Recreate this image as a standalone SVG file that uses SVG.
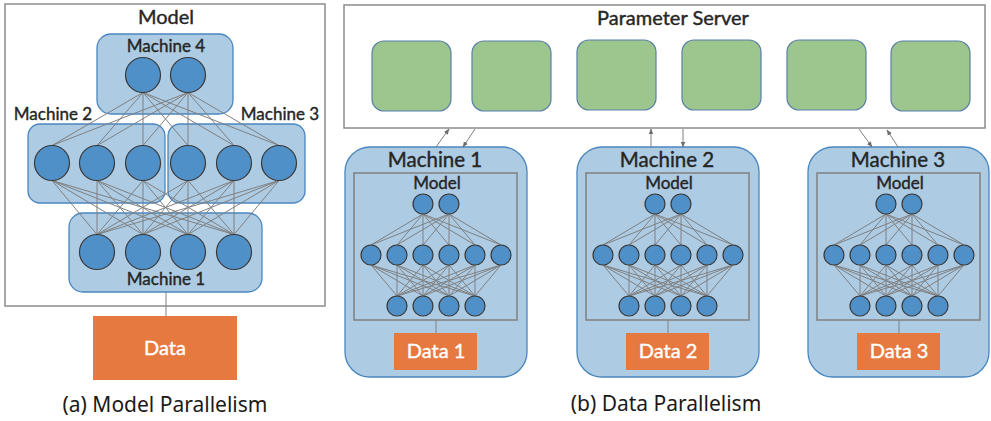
<svg xmlns="http://www.w3.org/2000/svg" xmlns:xlink="http://www.w3.org/1999/xlink" width="991" height="421" viewBox="0 0 991 421">
<style>
.frame{fill:#ffffff;stroke:#8c8c8c;stroke-width:1.5}
.mach{fill:#adcbe3;stroke:#4a86bf;stroke-width:1.3}
.node{fill:#4f90c8;stroke:#3a3a3a;stroke-width:1.2}
.link{stroke:#808080;stroke-width:1;fill:none}
.ps{fill:#9cc68d;stroke:#5a7fa8;stroke-width:1.2}
.data{fill:#e6793f}
.inner{fill:none;stroke:#808080;stroke-width:1.5}
.lbl{font-family:Lato,"Open Sans",sans-serif;fill:#262626;stroke:#262626;stroke-width:0.4;text-anchor:middle}
.wlbl{font-family:Lato,"Open Sans",sans-serif;fill:#ffffff;stroke:#ffffff;stroke-width:0.4;text-anchor:middle}
.cap{font-family:"Noto Sans","DejaVu Sans",sans-serif;fill:#1a1a1a;text-anchor:middle;font-size:21px}
.arr{stroke:#808080;stroke-width:1;fill:none;marker-end:url(#ah)}
</style>
<defs>
<marker id="ah" viewBox="0 0 10 10" refX="9" refY="5" markerWidth="6" markerHeight="6" orient="auto" markerUnits="userSpaceOnUse">
<path d="M0 1L10 5L0 9z" fill="#6e6e6e"/>
</marker>
<g id="net">
<path class="link" d="M423 214L371 245M423 214L397 245M423 214L423 245M423 214L449 245M423 214L475 245M423 214L501 245M449 214L371 245M449 214L397 245M449 214L423 245M449 214L449 245M449 214L475 245M449 214L501 245M371 265L397 296M371 265L423 296M371 265L449 296M371 265L475 296M397 265L397 296M397 265L423 296M397 265L449 296M397 265L475 296M423 265L397 296M423 265L423 296M423 265L449 296M423 265L475 296M449 265L397 296M449 265L423 296M449 265L449 296M449 265L475 296M475 265L397 296M475 265L423 296M475 265L449 296M475 265L475 296M501 265L397 296M501 265L423 296M501 265L449 296M501 265L475 296"/>
<circle class="node" cx="423" cy="204" r="10"/><circle class="node" cx="449" cy="204" r="10"/>
<circle class="node" cx="371" cy="255" r="10"/><circle class="node" cx="397" cy="255" r="10"/><circle class="node" cx="423" cy="255" r="10"/><circle class="node" cx="449" cy="255" r="10"/><circle class="node" cx="475" cy="255" r="10"/><circle class="node" cx="501" cy="255" r="10"/>
<circle class="node" cx="397" cy="306" r="10"/><circle class="node" cx="423" cy="306" r="10"/><circle class="node" cx="449" cy="306" r="10"/><circle class="node" cx="475" cy="306" r="10"/>
</g>
</defs>
<rect width="991" height="421" fill="#ffffff"/>

<!-- (a) Model parallelism -->
<g id="model-a">
<rect class="frame" x="5" y="4" width="320" height="302"/>
<text class="lbl" x="166" y="24" font-size="20">Model</text>
</g>
<g id="a-machine4">
<rect class="mach" x="97" y="34" width="136" height="80" rx="14"/>
<text class="lbl" x="166" y="52" font-size="17">Machine 4</text>
</g>
<g id="a-machine2">
<rect class="mach" x="28" y="124" width="137" height="79" rx="12"/>
<text class="lbl" x="53" y="120" font-size="17">Machine 2</text>
</g>
<g id="a-machine3">
<rect class="mach" x="168" y="124" width="137" height="79" rx="12"/>
<text class="lbl" x="280" y="120" font-size="17">Machine 3</text>
</g>
<g id="a-machine1">
<rect class="mach" x="69" y="213" width="193" height="79" rx="14"/>
<text class="lbl" x="166" y="285" font-size="17">Machine 1</text>
</g>
<g id="a-connectors">
<path class="link" d="M143 92.5L52 145.5M143 92.5L97 145.5M143 92.5L143 145.5M143 92.5L188 145.5M143 92.5L234 145.5M143 92.5L279 145.5M188 92.5L52 145.5M188 92.5L97 145.5M188 92.5L143 145.5M188 92.5L188 145.5M188 92.5L234 145.5M188 92.5L279 145.5"/>
<path class="link" d="M52 180.5L97 234.5M52 180.5L143 234.5M52 180.5L188 234.5M52 180.5L234 234.5M97 180.5L97 234.5M97 180.5L143 234.5M97 180.5L188 234.5M97 180.5L234 234.5M143 180.5L97 234.5M143 180.5L143 234.5M143 180.5L188 234.5M143 180.5L234 234.5M188 180.5L97 234.5M188 180.5L143 234.5M188 180.5L188 234.5M188 180.5L234 234.5M234 180.5L97 234.5M234 180.5L143 234.5M234 180.5L188 234.5M234 180.5L234 234.5M279 180.5L97 234.5M279 180.5L143 234.5M279 180.5L188 234.5M279 180.5L234 234.5"/>
<path class="link" d="M166 292L166 316"/>
</g>
<g id="a-neurons">
<circle class="node" cx="143" cy="75" r="17.5"/><circle class="node" cx="188" cy="75" r="17.5"/>
<circle class="node" cx="52" cy="163" r="17.5"/><circle class="node" cx="97" cy="163" r="17.5"/><circle class="node" cx="143" cy="163" r="17.5"/><circle class="node" cx="188" cy="163" r="17.5"/><circle class="node" cx="234" cy="163" r="17.5"/><circle class="node" cx="279" cy="163" r="17.5"/>
<circle class="node" cx="97" cy="252" r="17.5"/><circle class="node" cx="143" cy="252" r="17.5"/><circle class="node" cx="188" cy="252" r="17.5"/><circle class="node" cx="234" cy="252" r="17.5"/>
</g>
<g id="a-data">
<rect class="data" x="93" y="316" width="144" height="64"/>
<text class="wlbl" x="165" y="355" font-size="20">Data</text>
</g>
<text class="cap" x="165" y="412">(a) Model Parallelism</text>

<!-- (b) Data parallelism -->
<g id="param-server">
<rect class="frame" x="344" y="5" width="641" height="123"/>
<text class="lbl" x="673" y="25" font-size="20">Parameter Server</text>
<rect class="ps" x="372" y="41" width="79" height="70" rx="12"/>
<rect class="ps" x="472" y="41" width="79" height="70" rx="12"/>
<rect class="ps" x="577" y="40" width="79" height="70" rx="12"/>
<rect class="ps" x="682" y="40" width="79" height="70" rx="12"/>
<rect class="ps" x="787" y="40" width="79" height="70" rx="12"/>
<rect class="ps" x="891" y="41" width="79" height="70" rx="12"/>
</g>
<g id="b-machine1">
<rect class="mach" x="345" y="147" width="182" height="230" rx="25"/>
<text class="lbl" x="435" y="167" font-size="20.5">Machine 1</text>
<rect class="inner" x="354" y="173" width="163" height="147"/>
<text class="lbl" x="437" y="189" font-size="17">Model</text>
<use xlink:href="#net"/>
<path class="link" d="M436 320L436 333"/>
<rect class="data" x="394" y="333" width="83" height="37"/>
<text class="wlbl" x="436" y="358" font-size="20">Data 1</text>
</g>
<g id="b-machine2" transform="translate(232,0)">
<rect class="mach" x="345" y="147" width="182" height="230" rx="25"/>
<text class="lbl" x="435" y="167" font-size="20.5">Machine 2</text>
<rect class="inner" x="354" y="173" width="163" height="147"/>
<text class="lbl" x="437" y="189" font-size="17">Model</text>
<use xlink:href="#net"/>
<path class="link" d="M436 320L436 333"/>
<rect class="data" x="394" y="333" width="83" height="37"/>
<text class="wlbl" x="436" y="358" font-size="20">Data 2</text>
</g>
<g id="b-machine3" transform="translate(463,0)">
<rect class="mach" x="345" y="147" width="181" height="230" rx="25"/>
<text class="lbl" x="435" y="167" font-size="20.5">Machine 3</text>
<rect class="inner" x="354" y="173" width="163" height="147"/>
<text class="lbl" x="437" y="189" font-size="17">Model</text>
<use xlink:href="#net"/>
<path class="link" d="M436 320L436 333"/>
<rect class="data" x="394" y="333" width="83" height="37"/>
<text class="wlbl" x="436" y="358" font-size="20">Data 3</text>
</g>
<g id="b-connectors">
<path class="arr" d="M436 147L449 129"/>
<path class="arr" d="M475 129L463 147"/>
<path class="arr" d="M651 147L651 129"/>
<path class="arr" d="M683 129L683 147"/>
<path class="arr" d="M859 129L872 147"/>
<path class="arr" d="M898 147L887 130"/>
</g>
<text class="cap" x="666" y="411">(b) Data Parallelism</text>
</svg>
